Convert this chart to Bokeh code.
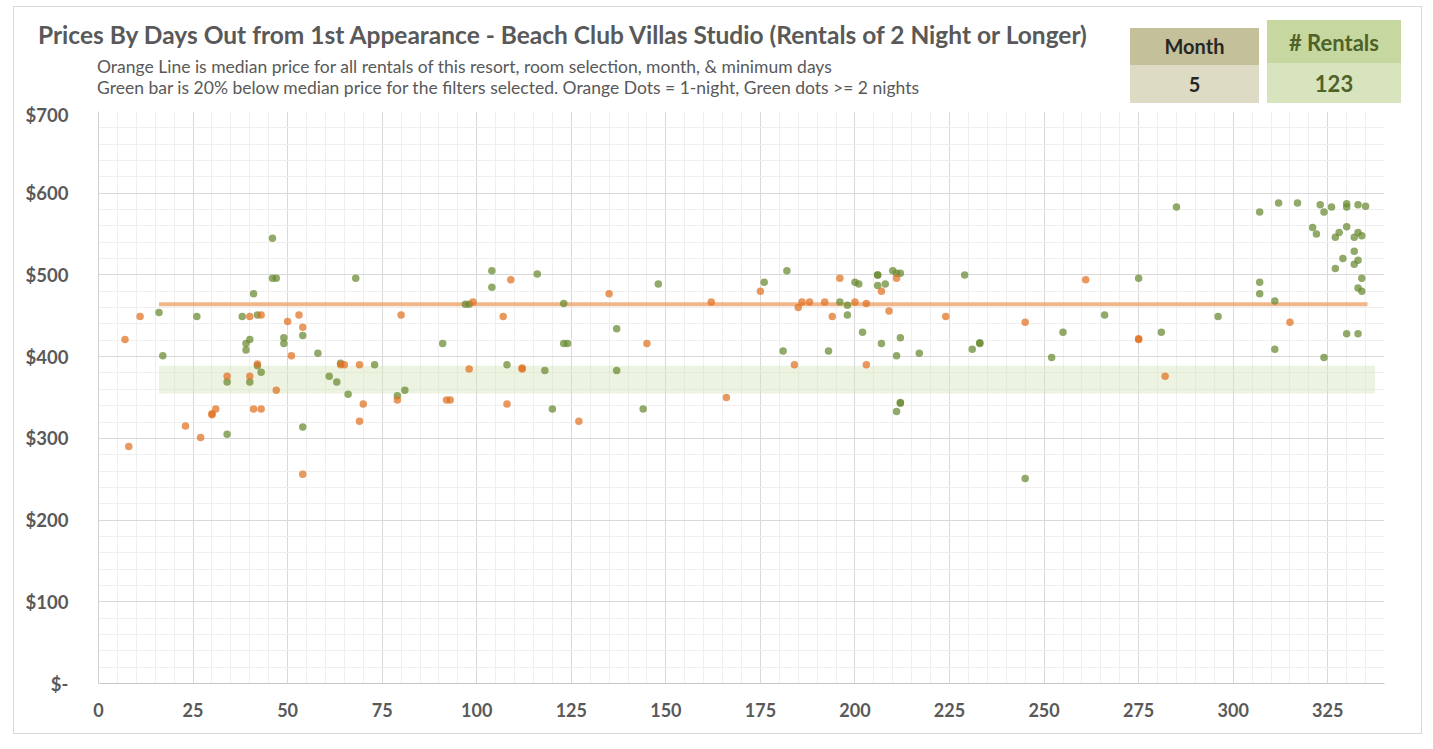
from bokeh.plotting import figure
from bokeh.models import FixedTicker, Range1d, InlineStyleSheet, Div
from bokeh.layouts import column
from bokeh.embed import file_html
from bokeh.resources import INLINE
import html
import numpy as np

# ---------------- data ----------------
title_text = "Prices By Days Out from 1st Appearance - Beach Club Villas Studio (Rentals of 2 Night or Longer)"
subtitle_1 = "Orange Line is median price for all rentals of this resort, room selection, month, & minimum days"
subtitle_2 = "Green bar is 20% below median price for the filters selected. Orange Dots = 1-night, Green dots >= 2 nights"

month_label = "Month"
month_value = "5"
rentals_label = "# Rentals"
rentals_value = "123"

orange_days = [7, 8, 11, 23, 27, 30, 30, 31, 34, 40, 40, 41, 42, 43, 43, 47, 50, 51, 53, 54, 54,
               64, 65, 69, 69, 70, 79, 80, 92, 93, 98, 99, 107, 108, 109, 112, 112, 127, 135, 145,
               162, 166, 175, 184, 185, 186, 188, 192, 194, 196, 200, 203, 203, 207, 209, 211, 224,
               245, 261, 275, 275, 282, 315]
orange_prices = [421, 290, 449, 315, 301, 329, 330, 336, 376, 449, 376, 336, 391, 451, 336, 359, 443, 401, 451, 436, 256,
                 390, 390, 390, 321, 342, 347, 451, 347, 347, 385, 467, 449, 342, 494, 385, 386, 321, 477, 416,
                 467, 350, 480, 390, 460, 467, 467, 467, 449, 496, 467, 465, 390, 480, 456, 496, 449,
                 442, 494, 421, 422, 376, 442]

green_days = [16, 17, 26, 34, 34, 38, 39, 39, 40, 40, 41, 42, 42, 43, 46, 46, 47, 49, 49, 54, 54, 58,
              61, 63, 64, 66, 68, 73, 79, 81, 91, 97, 98, 104, 104, 108, 116, 118, 120, 123, 123, 124, 137, 137, 144,
              148, 176, 181, 182, 193, 196, 198, 198, 200, 201, 202, 206, 206, 206, 207, 208, 210, 211, 212, 212,
              211, 212, 212, 211, 217, 229, 231, 233, 233,
              245, 252, 255, 266, 275, 281, 285, 296, 307, 307, 307, 311, 311, 312, 317, 321, 322, 323, 324, 324,
              326, 327, 327, 328, 329, 330, 330, 330, 330, 332, 332, 332, 333, 333, 333, 333, 333, 334, 334, 334, 335]
green_prices = [454, 401, 449, 369, 305, 449, 416, 408, 421, 369, 477, 451, 389, 381, 545, 496, 496, 423, 416, 426, 314, 404,
                376, 369, 392, 354, 496, 390, 352, 359, 416, 464, 464, 505, 485, 390, 501, 383, 336, 465, 416, 416, 434, 383, 336,
                489, 491, 407, 505, 407, 467, 463, 451, 491, 489, 430, 500, 500, 487, 416, 489, 505, 502, 502, 423,
                401, 343, 344, 333, 404, 500, 409, 416, 417,
                251, 399, 430, 451, 496, 430, 583, 449, 577, 491, 477, 468, 409, 588, 588, 558, 550, 586, 577, 399,
                583, 546, 508, 552, 520, 587, 583, 559, 428, 546, 529, 513, 586, 552, 518, 484, 428, 548, 496, 480, 584]

median_price = 464
median_span = [16, 335.5]
band_low = 355
band_high = 389
band_span = [16, 337.5]

x_ticks = [0, 25, 50, 75, 100, 125, 150, 175, 200, 225, 250, 275, 300, 325]
y_ticks = [0, 100, 200, 300, 400, 500, 600, 700]
y_tick_labels = ["$-", "$100", "$200", "$300", "$400", "$500", "$600", "$700"]

# ---------------- styling ----------------
FONT = "Lato"
TXT = "#595959"
W = 1425
LEFT, FRAME_W, RIGHT = 98, 1286, 41
HEAD_H = 103

e = html.escape

def abs_box(left, top, width, height, text, size, color, bg=None, weight=700, align="center", pad_top=0):
    bgcss = f"background:{bg};" if bg else ""
    wcss = f"width:{width}px;" if width else ""
    return (f'<div style="position:absolute;left:{left}px;top:{top}px;{wcss}height:{height}px;'
            f'box-sizing:border-box;padding-top:{pad_top}px;'
            f'line-height:{height - pad_top}px;font-size:{size};font-weight:{weight};color:{color};{bgcss}'
            f'text-align:{align};white-space:nowrap;">{e(text)}</div>')

header_html = (
    f'<div style="position:relative;width:{W}px;height:{HEAD_H}px;font-family:{FONT},sans-serif;">'
    + abs_box(38, 20, None, 30, title_text, "24.5px", TXT, align="left")
    + abs_box(97, 56, None, 22, subtitle_1, "17.5px", TXT, weight=400, align="left")
    + abs_box(97, 77, None, 22, subtitle_2, "17.5px", TXT, weight=400, align="left")
    + abs_box(1130, 28, 129, 37, month_label, "20px", "#262626", bg="#c4c09a")
    + abs_box(1130, 65, 129, 38, month_value, "20px", "#262626", bg="#dddbc3")
    + abs_box(1267, 20, 134, 43, rentals_label, "22px", "#4f6228", bg="#c6d7a0", pad_top=3)
    + abs_box(1267, 63, 134, 40, rentals_value, "22px", "#4f6228", bg="#d8e4bd", pad_top=2)
    + '</div>'
)
header = Div(text=header_html, width=W, height=HEAD_H, margin=0)

# ---------- main chart ----------
p = figure(frame_width=FRAME_W, frame_height=572,
           min_border_left=LEFT, min_border_right=RIGHT, min_border_top=8, min_border_bottom=58,
           x_range=Range1d(0, 340), y_range=Range1d(0, 700),
           output_backend="svg", toolbar_location=None)
p.outline_line_color = None
p.background_fill_color = "white"
p.border_fill_color = "white"

xt = FixedTicker(ticks=x_ticks, minor_ticks=list(np.arange(0, 341, 5)))
yt = FixedTicker(ticks=y_ticks, minor_ticks=list(np.arange(0, 701, 20)))
p.xaxis.ticker = xt
p.yaxis.ticker = yt
p.xgrid.ticker = xt
p.ygrid.ticker = yt
p.yaxis.major_label_overrides = {t: l for t, l in zip(y_ticks, y_tick_labels)}

for g in (p.xgrid, p.ygrid):
    g.grid_line_color = "#d9d9d9"
    g.grid_line_width = 1
    g.minor_grid_line_color = "#efefef"
    g.minor_grid_line_width = 1

for ax in (p.xaxis, p.yaxis):
    ax.major_tick_line_color = None
    ax.minor_tick_line_color = None
    ax.major_label_text_font = FONT
    ax.major_label_text_font_style = "bold"
    ax.major_label_text_color = TXT
p.xaxis.major_label_text_font_size = "18px"
p.yaxis.major_label_text_font_size = "18.5px"
p.xaxis.axis_line_color = "#c8c8c8"
p.yaxis.axis_line_color = "#d0d0d0"
p.xaxis.major_label_standoff = 13
p.yaxis.major_label_standoff = 24

# green band and median line
p.quad(left=[band_span[0]], right=[band_span[1]], bottom=[band_low], top=[band_high],
       fill_color="#d8e4bc", fill_alpha=0.45, line_color=None)
p.segment(x0=[median_span[0]], x1=[median_span[1]], y0=[median_price], y1=[median_price],
          line_color="#eda56e", line_alpha=0.8, line_width=4)

# dots
p.scatter(green_days, green_prices, size=7.5, fill_color="#68892f", fill_alpha=0.72, line_color=None)
p.scatter(orange_days, orange_prices, size=7.5, fill_color="#e07020", fill_alpha=0.72, line_color=None)

css = InlineStyleSheet(css="""
:host { position: relative; }
:host::after { content: ""; position: absolute; left: 13px; top: 6px; width: 1409px; height: 728px;
  border: 1.5px solid #d9d9d9; box-sizing: border-box; pointer-events: none; }
""")
layout = column(header, p, spacing=0, stylesheets=[css])

open("out.html", "w").write(file_html(layout, INLINE))
